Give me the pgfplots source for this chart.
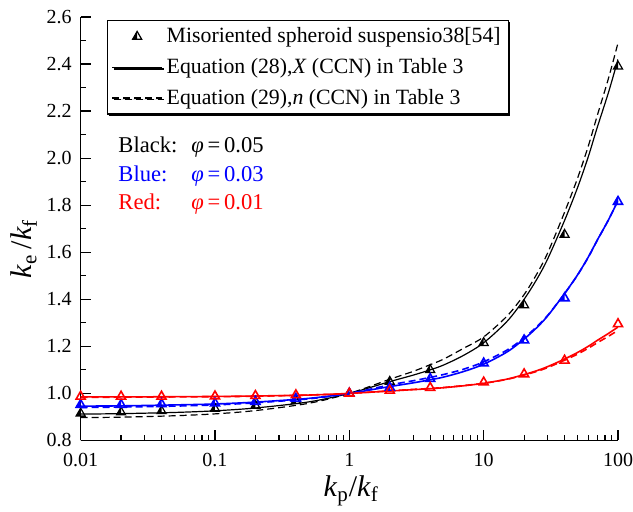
\documentclass[border=0pt]{standalone}
\usepackage{fontspec}
\setmainfont{Liberation Serif}
\usepackage{pgfplots}
\pgfplotsset{compat=1.18}
\usetikzlibrary{calc,shadows}

\pgfdeclareplotmark{halftri}{%
  \pgfpathmoveto{\pgfqpoint{0pt}{\pgfplotmarksize}}%
  \pgfpathlineto{\pgfqpoint{-.866\pgfplotmarksize}{-.5\pgfplotmarksize}}%
  \pgfpathlineto{\pgfqpoint{0pt}{-.5\pgfplotmarksize}}%
  \pgfpathclose
  \pgfusepathqfill
  \pgfpathmoveto{\pgfqpoint{0pt}{\pgfplotmarksize}}%
  \pgfpathlineto{\pgfqpoint{-.866\pgfplotmarksize}{-.5\pgfplotmarksize}}%
  \pgfpathlineto{\pgfqpoint{.866\pgfplotmarksize}{-.5\pgfplotmarksize}}%
  \pgfpathclose
  \pgfusepathqstroke
}

\pgfplotsset{
  lineleg/.style={legend image code/.code={\draw[##1] (0pt,0pt) -- (25pt,0pt);}},
  markleg/.style={legend image code/.code={\draw[##1] plot coordinates {(12.5pt,0pt)};}},
}

\definecolor{myblue}{RGB}{0,0,255}
\definecolor{myred}{RGB}{255,0,0}

\begin{document}
\begin{tikzpicture}
\begin{axis}[
  name=ax,
  scale only axis,
  width=268.9pt, height=211.9pt,
  xmode=log, log basis x=10,
  xmin=0.01, xmax=100, ymin=0.8, ymax=2.6,
  axis x line*=bottom, axis y line*=left,
  axis line style={line width=0.75pt},
  tick align=inside,
  major tick length=5pt, minor tick length=2.5pt,
  every tick/.style={line width=0.6pt, black},
  xtick={0.01,0.1,1,10,100},
  xticklabels={0.01,0.1,1,10,100},
  minor xtick={0.02,0.03,0.04,0.05,0.06,0.07,0.08,0.09,0.2,0.3,0.4,0.5,0.6,0.7,0.8,0.9,2,3,4,5,6,7,8,9,20,30,40,50,60,70,80,90},
  ytick={0.8,1,1.2,1.4,1.6,1.8,2,2.2,2.4,2.6},
  minor ytick={0.9,1.1,1.3,1.5,1.7,1.9,2.1,2.3,2.5},
  /pgf/number format/assume math mode=true,
  tick label style={font=\fontsize{10}{12}\selectfont, black, inner sep=0.5pt},
  xticklabel style={yshift=-5.6pt},
  yticklabel style={xshift=-3.8pt, /pgf/number format/.cd, fixed, fixed zerofill, precision=1},
  lineleg,
  legend style={at={(rel axis cs:0.049,0.993)}, anchor=north west,
    draw=black, line width=0.6pt, fill=white,
    font=\fontsize{10.9}{13}\selectfont,
    inner xsep=2pt, inner ysep=1.5pt, row sep=2.3pt,
    drop shadow={shadow xshift=0.9pt, shadow yshift=-0.9pt, fill=black, opacity=1}},
  legend cell align=left,
]
% ---------------- black, phi = 0.05 ----------------
\addplot[only marks, mark=halftri, mark size=2.6pt,
  mark options={draw=black, fill=black, line width=0.6pt, solid}, markleg]
coordinates {(0.01,0.915) (0.02,0.92) (0.04,0.925) (0.1,0.935) (0.2,0.948) (0.4,0.968) (1,1.0) (2,1.05) (4,1.10) (10,1.215) (20,1.375) (40,1.675) (100,2.39)};
\addlegendentry{Misoriented spheroid suspensio38[54]}

\addplot[black, line width=0.6pt, smooth] coordinates {
(0.01,0.912) (0.02,0.914) (0.05,0.919) (0.1,0.926) (0.2,0.938) (0.5,0.964) (1,1.0) (2,1.05) (3,1.078) (4,1.10) (5,1.12) (7,1.16) (10,1.215) (15,1.3075) (20,1.40) (25,1.4875) (30,1.5725) (40,1.735) (50,1.875) (60,2.005) (70,2.13) (85,2.28) (100,2.42)};
\addlegendentry{Equation (28),\textit{X} (CCN) in Table 3}

\addplot[black, line width=0.6pt, smooth, dash pattern=on 3.5pt off 2pt] coordinates {
(0.01,0.897) (0.02,0.899) (0.05,0.905) (0.1,0.913) (0.2,0.927) (0.5,0.958) (1,1.0) (2,1.06) (3,1.094) (4,1.122) (5,1.145) (7,1.19) (10,1.24) (15,1.33) (20,1.42) (25,1.51) (30,1.598) (40,1.77) (50,1.915) (60,2.05) (70,2.18) (85,2.34) (100,2.49)};
\addlegendentry{Equation (29),\textit{n} (CCN) in Table 3}

% ---------------- blue, phi = 0.03 ----------------
\addplot[forget plot, only marks, mark=halftri, mark size=2.6pt,
  mark options={draw=myblue, fill=myblue, line width=0.8pt, solid}]
coordinates {(0.01,0.952) (0.02,0.952) (0.04,0.955) (0.1,0.958) (0.2,0.965) (0.4,0.978) (1,1.0) (2,1.025) (4,1.062) (10,1.128) (20,1.226) (40,1.405) (100,1.815)};
\addplot[forget plot, myblue, line width=0.8pt, smooth] coordinates {
(0.01,0.946) (0.02,0.947) (0.05,0.951) (0.1,0.955) (0.2,0.963) (0.5,0.979) (1,1.0) (2,1.029) (3,1.045) (4,1.058) (5,1.069) (7,1.092) (10,1.124) (15,1.177) (20,1.231) (25,1.281) (30,1.330) (40,1.424) (50,1.504) (60,1.579) (70,1.651) (85,1.738) (100,1.82)};
\addplot[forget plot, myblue, line width=0.8pt, smooth, dash pattern=on 3.5pt off 2pt] coordinates {
(0.01,0.940) (0.02,0.942) (0.05,0.946) (0.1,0.951) (0.2,0.96) (0.5,0.977) (1,1.0) (2,1.036) (3,1.054) (4,1.068) (5,1.08) (7,1.102) (10,1.134) (15,1.185) (20,1.236) (25,1.285) (30,1.332) (40,1.424) (50,1.503) (60,1.578) (70,1.65) (85,1.738) (100,1.82)};

% ---------------- red, phi = 0.01 ----------------
\addplot[forget plot, only marks, mark=triangle, mark size=2.6pt,
  mark options={draw=myred, fill=white, line width=0.8pt, solid}]
coordinates {(0.01,0.987) (0.02,0.987) (0.04,0.987) (0.1,0.988) (0.2,0.99) (0.4,0.993) (1,1.0) (2,1.012) (4,1.024) (10,1.047) (20,1.082) (40,1.14) (100,1.295)};
\addplot[forget plot, myred, line width=0.8pt, smooth] coordinates {
(0.01,0.985) (0.02,0.985) (0.05,0.986) (0.1,0.987) (0.2,0.989) (0.5,0.993) (1,1.0) (2,1.01) (3,1.016) (4,1.02) (5,1.024) (7,1.032) (10,1.043) (15,1.061) (20,1.08) (25,1.097) (30,1.114) (40,1.146) (50,1.174) (60,1.2) (70,1.225) (85,1.255) (100,1.282)};
\addplot[forget plot, myred, line width=0.8pt, smooth, dash pattern=on 3.5pt off 2pt] coordinates {
(0.01,0.983) (0.02,0.984) (0.05,0.985) (0.1,0.986) (0.2,0.988) (0.5,0.993) (1,1.0) (2,1.011) (3,1.017) (4,1.021) (5,1.025) (7,1.033) (10,1.043) (15,1.06) (20,1.078) (25,1.094) (30,1.11) (40,1.141) (50,1.167) (60,1.192) (70,1.215) (85,1.243) (100,1.268)};

% ---------------- annotations ----------------
\node[anchor=base west, inner sep=0pt, font=\fontsize{11.3}{13}\selectfont, black] at (axis cs:0.019,2.022) {Black:};
\node[anchor=base west, inner sep=0pt, font=\fontsize{11.3}{13}\selectfont, black] at (axis cs:0.0663,2.022) {\textit{φ}\,=\,0.05};
\node[anchor=base west, inner sep=0pt, font=\fontsize{11.3}{13}\selectfont, myblue] at (axis cs:0.019,1.900) {Blue:};
\node[anchor=base west, inner sep=0pt, font=\fontsize{11.3}{13}\selectfont, myblue] at (axis cs:0.0663,1.900) {\textit{φ}\,=\,0.03};
\node[anchor=base west, inner sep=0pt, font=\fontsize{11.3}{13}\selectfont, myred] at (axis cs:0.019,1.780) {Red:};
\node[anchor=base west, inner sep=0pt, font=\fontsize{11.3}{13}\selectfont, myred] at (axis cs:0.0663,1.780) {\textit{φ}\,=\,0.01};
\end{axis}
\node[anchor=base, inner sep=0pt, font=\fontsize{15}{18}\selectfont] at ($(ax.south)+(1pt,-28.15pt)$) {\textit{k}\textsubscript{p}/\textit{k}\textsubscript{f}};
\node[anchor=base, inner sep=0pt, rotate=90, font=\fontsize{15}{18}\selectfont] at ($(ax.west)+(-24.35pt,-10pt)$) {\textit{k}\textsubscript{e}\,/\textit{k}\textsubscript{f}};
\pgfresetboundingbox
\path[use as bounding box] ($(ax.south west)+(-40.35pt,-35.65pt)$) rectangle ($(ax.north east)+(7.5pt,8.5pt)$);
\end{tikzpicture}
\end{document}
